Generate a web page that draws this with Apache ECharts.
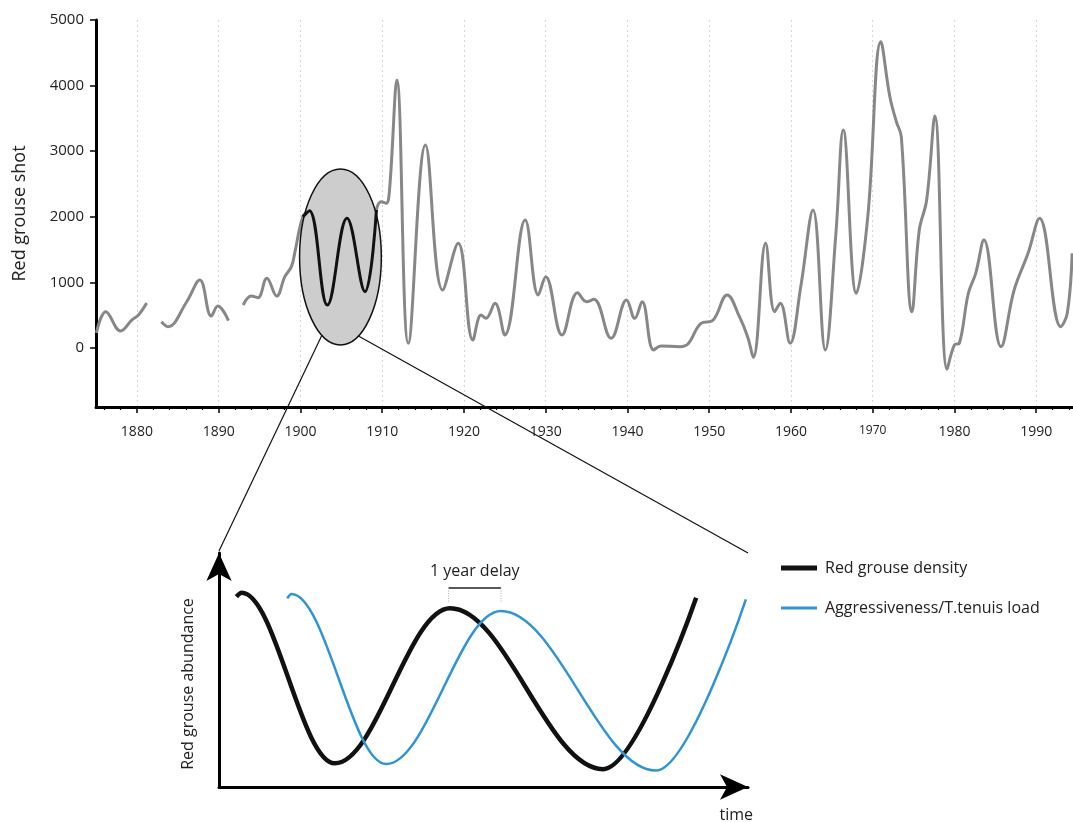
<!DOCTYPE html>
<html>
<head>
<meta charset="utf-8">
<script src="https://cdn.jsdelivr.net/npm/echarts@6/dist/echarts.min.js"></script>
<style>
html,body{margin:0;padding:0;background:#fff;}
#main{width:1073px;height:822px;}
</style>
</head>
<body>
<div id="main"></div>
<script>
// ---------- Top panel: red grouse shot (year, bag) ----------
var shotYears = [1875.05,1876.2,1878.0,1879.4,1880.2,1881.2,1882,
  1883.0,1883.8,1886.1,1887.7,1889.1,1889.9,1891.2,1892,
  1893.0,1894.0,1894.8,1895.9,1897.1,1898.1,1898.9,1899.3,1900.3,1901.1,1903.3,1905.7,1907.9,1909.3,1909.9,1910.5,1910.9,
  1911.8,1913.2,1915.3,1917.4,1919.3,1921.1,1922.1,1922.7,1923.8,1925.0,1927.5,1929.1,1930.0,1932.0,1933.9,1935.0,1935.9,
  1938.0,1939.9,1940.9,1941.8,1943.2,1944.1,1946.4,1947.4,1949.0,1950.4,1952.2,1953.7,1954.7,1955.4,1956.9,1958.0,1958.7,
  1959.9,1961.2,1962.7,1964.2,1965.5,1966.4,1968.0,1969.4,1971.0,1972.1,1972.9,1973.5,1974.8,1975.7,1976.6,1977.6,
  1979.1,1980.0,1980.6,1981.7,1982.6,1983.6,1985.7,1987.3,1989.0,1990.4,1993.0,1993.8,1994.4];
var shotValues = [229,553,259,427,503,686,null,
  400,325,705,1036,488,640,416,null,
  655,792,767,1062,792,1087,1239,1443,2001,2093,655,1976,858,2103,2230,2205,2408,
  4084,72,3094,884,1596,122,503,452,681,198,1951,808,1087,198,843,706,742,
  148,732,452,706,-30,30,20,60,376,416,808,477,172,-142,1596,553,681,
  72,934,2103,-30,1748,3322,834,2001,4668,3830,3449,3220,553,1798,2256,3536,
  -325,46,72,834,1138,1646,20,884,1443,1976,325,529,1443];
var decadeTicks = [1880,1890,1900,1910,1920,1930,1940,1950,1960,1970,1980,1990];
var yTicks = [0,1000,2000,3000,4000,5000];
// highlighted window (ellipse) : centre year, centre value, half-width (years), half-height (birds)
var zoomCenter = [1904.9, 1387];
var zoomRadius = [5.0, 1341];
var zoomYears = [1900.1, 1909.5];

// ---------- Bottom panel: schematic cycles (time, abundance): start, peaks, troughs, end ----------
var densityTime = [3.3, 4.3, 21.9, 43.7, 72.6, 90.2];
var densityVal  = [81.3, 83.0, 10.1, 76.4, 7.6, 80.9];
var loadTime = [12.9, 13.7, 31.6, 53.3, 82.6, 99.6];
var loadVal  = [80.6, 82.5, 9.8, 75.2, 7.0, 80.2];
var delayBracket = [43.4, 53.3]; // peak of density, peak of load
var delayLabel = '1 year delay';

var FONT = "'Open Sans', 'Noto Sans', sans-serif";

function pairs(xs, ys) { return xs.map(function (x, i) { return [x, ys[i]]; }); }
var shotData = pairs(shotYears, shotValues);
var zoomData = shotData.filter(function (d) { return d[0] >= zoomYears[0] && d[0] <= zoomYears[1] && d[1] != null; });
var minorTicks = [];
for (var y = 1876; y <= 1994; y += 2) { if (y % 10 !== 0) minorTicks.push(y); }

var chart = echarts.init(document.getElementById('main'), null, {renderer: 'canvas'});

var option = {
  animation: false,
  backgroundColor: '#ffffff',
  textStyle: {fontFamily: FONT},
  grid: [
    {left: 96, top: 20, right: 0, bottom: 415, containLabel: false},
    {left: 219, top: 553, right: 325, bottom: 35, containLabel: false}
  ],
  xAxis: [
    {
      type: 'value', gridIndex: 0, min: 1875, max: 1994.5, position: 'bottom',
      axisLine: {show: true, onZero: false, lineStyle: {color: '#000', width: 3}},
      axisTick: {show: true, customValues: decadeTicks, length: 6, lineStyle: {color: '#000', width: 1.5}},
      axisLabel: {
        customValues: decadeTicks, margin: 18, fontSize: 14, color: '#222', fontFamily: FONT,
        formatter: function (v) { return v === 1970 ? '{s|' + v + '}' : String(v); },
        rich: {s: {fontSize: 12, color: '#222', fontFamily: FONT}}
      },
      splitLine: {show: true, lineStyle: {color: '#d6d6d6', type: [2, 3], width: 1}}
    },
    {
      type: 'value', gridIndex: 0, min: 1875, max: 1994.5, position: 'bottom',
      axisLine: {show: false, onZero: false},
      axisTick: {show: true, customValues: minorTicks, length: 3, lineStyle: {color: '#000', width: 1.2}},
      axisLabel: {show: false},
      splitLine: {show: false}
    },
    {
      type: 'value', gridIndex: 1, min: 0, max: 100, position: 'bottom',
      axisLine: {show: true, onZero: false, symbol: ['none', 'arrow'], symbolSize: [19, 28], symbolOffset: [0, 0],
        lineStyle: {color: '#000', width: 3}},
      axisTick: {show: false}, axisLabel: {show: false}, splitLine: {show: false}
    }
  ],
  yAxis: [
    {
      type: 'value', gridIndex: 0, min: -900, max: 5000, position: 'left',
      name: 'Red grouse shot', nameLocation: 'middle', nameGap: 67,
      nameTextStyle: {fontSize: 18, color: '#222', fontFamily: FONT},
      axisLine: {show: true, onZero: false, lineStyle: {color: '#000', width: 3}},
      axisTick: {show: true, customValues: yTicks, length: 6, lineStyle: {color: '#000', width: 1.5}},
      axisLabel: {customValues: yTicks, margin: 12, fontSize: 15, color: '#222', fontFamily: FONT,
        formatter: function (v) { return String(v); }},
      splitLine: {show: false}
    },
    {
      type: 'value', gridIndex: 1, min: 0, max: 100, position: 'left',
      axisLine: {show: true, onZero: false, symbol: ['none', 'arrow'], symbolSize: [19, 28], symbolOffset: [0, 0],
        lineStyle: {color: '#000', width: 3}},
      axisTick: {show: false}, axisLabel: {show: false}, splitLine: {show: false}
    }
  ],
  legend: [
    {
      data: [{name: 'Red grouse density', icon: 'rect'}],
      left: 776, top: 555, itemWidth: 36, itemHeight: 5, selectedMode: false,
      textStyle: {fontSize: 16, color: '#222', fontFamily: FONT, padding: [0, 0, 0, 3]}
    },
    {
      data: [{name: 'Aggressiveness/T.tenuis load', icon: 'rect'}],
      left: 776, top: 595, itemWidth: 36, itemHeight: 3, selectedMode: false,
      textStyle: {fontSize: 16, color: '#222', fontFamily: FONT, padding: [0, 0, 0, 3]}
    }
  ],
  series: [
    {
      name: 'Red grouse shot', type: 'line', xAxisIndex: 0, yAxisIndex: 0,
      data: shotData, smooth: 0.4, showSymbol: false, connectNulls: false, clip: false, z: 2,
      lineStyle: {color: '#878787', width: 3}, itemStyle: {color: '#878787'}
    },
    {
      name: 'window', type: 'custom', xAxisIndex: 0, yAxisIndex: 0, z: 3, clip: false,
      data: [[zoomCenter[0], zoomCenter[1], zoomRadius[0], zoomRadius[1]]],
      renderItem: function (params, api) {
        var c = api.coord([api.value(0), api.value(1)]);
        var e = api.coord([api.value(0) + api.value(2), api.value(1) + api.value(3)]);
        return {
          type: 'ellipse',
          shape: {cx: c[0], cy: c[1], rx: Math.abs(e[0] - c[0]), ry: Math.abs(c[1] - e[1])},
          style: {fill: '#cdcdcd', stroke: '#111', lineWidth: 1.5}
        };
      }
    },
    {
      name: 'Red grouse shot (window)', type: 'line', xAxisIndex: 0, yAxisIndex: 0,
      data: zoomData, smooth: 0.4, showSymbol: false, z: 4,
      lineStyle: {color: '#111', width: 3}, itemStyle: {color: '#111'}
    },
    {
      name: 'Red grouse density', type: 'line', xAxisIndex: 2, yAxisIndex: 1,
      data: pairs(densityTime, densityVal), smooth: 0.36, smoothMonotone: 'x', showSymbol: false, clip: false, z: 3,
      color: '#111', lineStyle: {color: '#111', width: 4.5}, itemStyle: {color: '#111'}
    },
    {
      name: 'Aggressiveness/T.tenuis load', type: 'line', xAxisIndex: 2, yAxisIndex: 1,
      data: pairs(loadTime, loadVal), smooth: 0.36, smoothMonotone: 'x', showSymbol: false, clip: false, z: 3,
      color: '#2f94d5', lineStyle: {color: '#2f94d5', width: 2.5}, itemStyle: {color: '#2f94d5'}
    },
    {
      name: 'delay', type: 'custom', xAxisIndex: 2, yAxisIndex: 1, clip: false, z: 4,
      data: [[delayBracket[0], delayBracket[1]]],
      renderItem: function (params, api) {
        var a = api.coord([api.value(0), 85]);
        var b = api.coord([api.value(1), 85]);
        var a2 = api.coord([api.value(0), 78.6]);
        var t = api.coord([(api.value(0) + api.value(1)) / 2, 92.3]);
        return {
          type: 'group',
          children: [
            {type: 'line', shape: {x1: a[0], y1: a[1], x2: b[0], y2: b[1]}, style: {stroke: '#222', lineWidth: 1.5}},
            {type: 'line', shape: {x1: a[0], y1: a[1], x2: a[0], y2: a2[1]}, style: {stroke: '#aaa', lineWidth: 1, lineDash: [1, 1.5]}},
            {type: 'line', shape: {x1: b[0], y1: b[1], x2: b[0], y2: a2[1]}, style: {stroke: '#aaa', lineWidth: 1, lineDash: [1, 1.5]}},
            {type: 'text', x: t[0], y: t[1], style: {text: delayLabel, fill: '#222', font: '16px ' + FONT, textAlign: 'center', textVerticalAlign: 'middle'}}
          ]
        };
      }
    }
  ]
};
chart.setOption(option);

// connector lines from the highlighted window to the schematic panel, plus panel texts
var c = chart.convertToPixel({xAxisIndex: 0, yAxisIndex: 0}, zoomCenter);
var e = chart.convertToPixel({xAxisIndex: 0, yAxisIndex: 0}, [zoomCenter[0] + zoomRadius[0], zoomCenter[1] - zoomRadius[1]]);
var rx = e[0] - c[0], ry = e[1] - c[1];
var th1 = 117 * Math.PI / 180, th2 = 64 * Math.PI / 180;
var pA = [c[0] + rx * Math.cos(th1), c[1] + ry * Math.sin(th1)];
var pB = [c[0] + rx * Math.cos(th2), c[1] + ry * Math.sin(th2)];
var qA = chart.convertToPixel({xAxisIndex: 2, yAxisIndex: 1}, [0, 100]);
var qB = chart.convertToPixel({xAxisIndex: 2, yAxisIndex: 1}, [100, 100]);
var q0 = chart.convertToPixel({xAxisIndex: 2, yAxisIndex: 1}, [0, 0]);
chart.setOption({
  graphic: [
    {type: 'line', z: 50, shape: {x1: pA[0], y1: pA[1], x2: qA[0], y2: qA[1] - 2}, style: {stroke: '#111', lineWidth: 1.2}},
    {type: 'line', z: 50, shape: {x1: pB[0], y1: pB[1], x2: qB[0], y2: qB[1]}, style: {stroke: '#111', lineWidth: 1.2}},
    {type: 'text', z: 50, x: qB[0] + 5, y: q0[1] + 28, style: {text: 'time', fill: '#222', font: '16px ' + FONT, textAlign: 'right', textVerticalAlign: 'middle'}},
    {type: 'text', z: 50, x: q0[0] - 31, y: (qA[1] + q0[1]) / 2 + 14, rotation: Math.PI / 2,
      style: {text: 'Red grouse abundance', fill: '#222', font: '16px ' + FONT, textAlign: 'center', textVerticalAlign: 'middle'}}
  ]
});
</script>
</body>
</html>
